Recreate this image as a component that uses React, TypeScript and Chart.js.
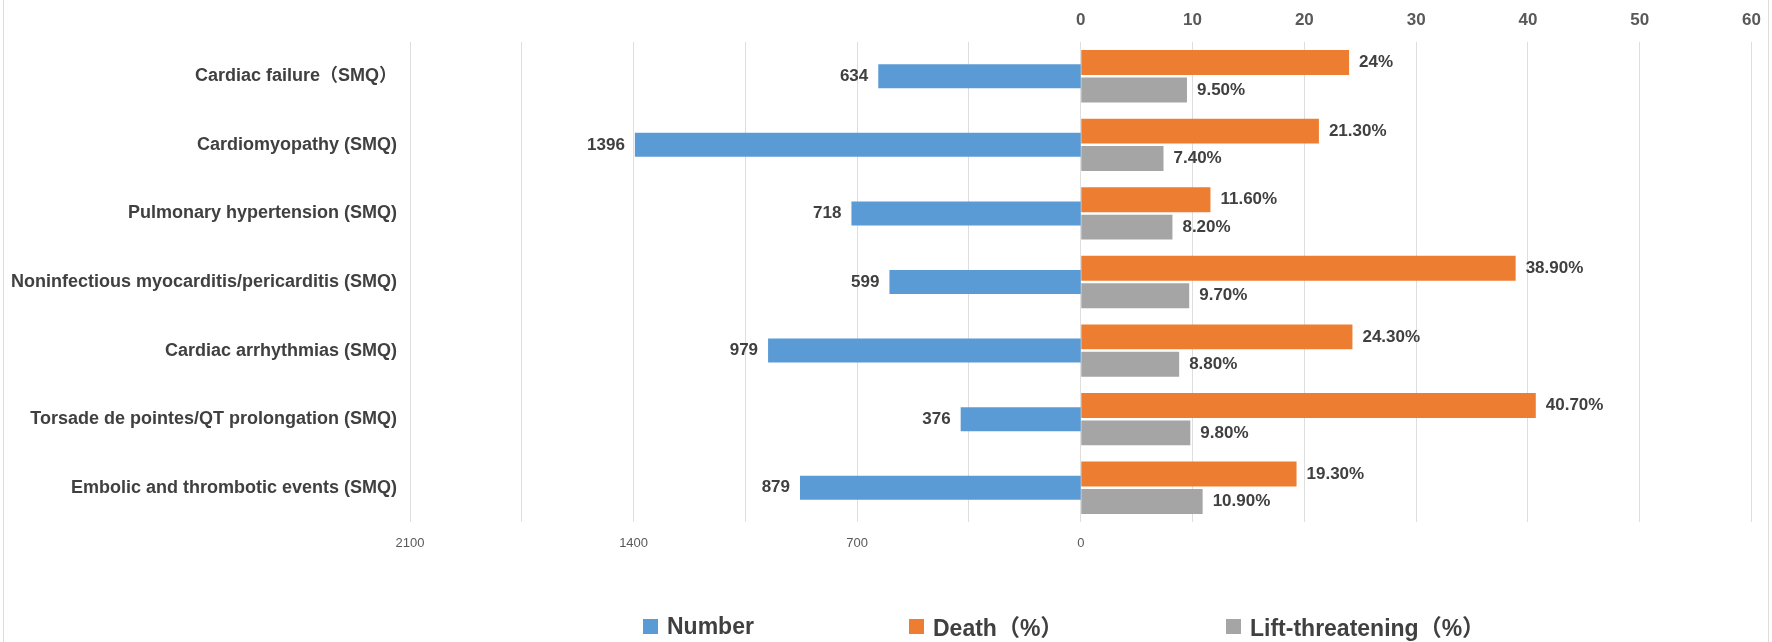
import React, { useEffect, useRef } from "react";
import { Chart, ChartConfiguration, Plugin, registerables } from "chart.js";

Chart.register(...registerables);

const FONT = "'Helvetica Neue', Helvetica, Arial, 'Liberation Sans', 'Noto Sans CJK SC', sans-serif";

const categories = [
    "Cardiac failure（SMQ）",
    "Cardiomyopathy (SMQ)",
    "Pulmonary hypertension (SMQ)",
    "Noninfectious myocarditis/pericarditis (SMQ)",
    "Cardiac arrhythmias (SMQ)",
    "Torsade de pointes/QT prolongation (SMQ)",
    "Embolic and thrombotic events (SMQ)",
];
const numberValues = [634, 1396, 718, 599, 979, 376, 879];
const deathValues = [24, 21.3, 11.6, 38.9, 24.3, 40.7, 19.3];
const lifeValues = [9.5, 7.4, 8.2, 9.7, 8.8, 9.8, 10.9];
const numberTickLabels = [2100, 1400, 700, 0];
const percentTickLabels = [0, 10, 20, 30, 40, 50, 60];
const seriesNames = ["Number", "Death（%）", "Lift-threatening（%）"];
const seriesColors = ["#5B9BD5", "#ED7D31", "#A5A5A5"];

const fmtPct = (v: number) => (Number.isInteger(v) ? `${v}%` : `${v.toFixed(2)}%`);

// value labels next to the end of each bar
const barLabels: Plugin<"bar"> = {
    id: "barLabels",
    afterDatasetsDraw(chart) {
        const ctx = chart.ctx;
        ctx.save();
        ctx.font = `bold 17px ${FONT}`;
        ctx.fillStyle = "#404040";
        ctx.textBaseline = "middle";
        chart.data.datasets.forEach((ds, i) => {
            const meta = chart.getDatasetMeta(i);
            meta.data.forEach((bar, j) => {
                const v = ds.data[j] as number;
                if (i === 0) {
                    ctx.textAlign = "right";
                    ctx.fillText(String(Math.abs(v)), bar.x - 10, bar.y);
                } else {
                    ctx.textAlign = "left";
                    ctx.fillText(fmtPct(v), bar.x + 10, bar.y);
                }
            });
        });
        ctx.restore();
    },
};

const App: React.FC = () => {
    const chartRef = useRef<HTMLCanvasElement>(null);
    const chartInstance = useRef<Chart | null>(null);

    useEffect(() => {
        document.body.style.margin = "0";
        if (!chartRef.current) return;
        const ctx = chartRef.current.getContext("2d");
        if (!ctx) return;
        if (chartInstance.current) chartInstance.current.destroy();

        const config: ChartConfiguration<"bar"> = {
            type: "bar",
            data: {
                labels: categories,
                datasets: [
                    {
                        label: seriesNames[0],
                        data: numberValues.map((v) => -v),
                        backgroundColor: seriesColors[0],
                        xAxisID: "xNum",
                        grouped: false,
                        categoryPercentage: 1,
                        barPercentage: 0.35,
                    },
                    {
                        label: seriesNames[1],
                        data: deathValues,
                        backgroundColor: seriesColors[1],
                        xAxisID: "xPct",
                        categoryPercentage: 0.8,
                        barPercentage: 0.91,
                    },
                    {
                        label: seriesNames[2],
                        data: lifeValues,
                        backgroundColor: seriesColors[2],
                        xAxisID: "xPct",
                        categoryPercentage: 0.8,
                        barPercentage: 0.91,
                    },
                ],
            },
            options: {
                indexAxis: "y",
                responsive: false,
                animation: false,
                layout: { padding: { left: 0, right: 20, top: 0, bottom: 80 } },
                scales: {
                    y: {
                        grid: { display: false },
                        border: { display: false },
                        ticks: {
                            autoSkip: false,
                            padding: 5,
                            color: "#404040",
                            font: { family: FONT, size: 18, weight: "bold" },
                        },
                        afterFit: (scale) => {
                            scale.width = 410;
                        },
                    },
                    xPct: {
                        type: "linear",
                        axis: "x",
                        position: "top",
                        min: -60,
                        max: 60,
                        grid: { color: "#dedede", drawTicks: false },
                        border: { display: false },
                        ticks: {
                            stepSize: 10,
                            autoSkip: false,
                            maxRotation: 0,
                            padding: 11,
                            color: "#595959",
                            font: { family: FONT, size: 17, weight: "bold" },
                            callback: (v) => (percentTickLabels.includes(Number(v)) ? String(v) : ""),
                        },
                        afterFit: (scale) => {
                            scale.height = 42;
                        },
                    },
                    xNum: {
                        type: "linear",
                        axis: "x",
                        position: "bottom",
                        min: -2100,
                        max: 2100,
                        grid: { display: false },
                        border: { display: false },
                        ticks: {
                            stepSize: 350,
                            autoSkip: false,
                            maxRotation: 0,
                            padding: 6,
                            color: "#595959",
                            font: { family: FONT, size: 13 },
                            callback: (v) => {
                                const n = -Number(v);
                                return numberTickLabels.includes(n) ? String(Math.abs(n)) : "";
                            },
                        },
                        afterFit: (scale) => {
                            scale.height = 40;
                        },
                    },
                },
                plugins: {
                    legend: { display: false },
                    tooltip: { enabled: false },
                },
            },
            plugins: [barLabels],
        };

        chartInstance.current = new Chart(ctx, config);

        return () => {
            if (chartInstance.current) {
                chartInstance.current.destroy();
                chartInstance.current = null;
            }
        };
    }, []);

    const legendWidths = [266, 317, undefined];

    return (
        <div style={{ position: "relative", width: 1772, height: 642, background: "#fff" }}>
            <canvas ref={chartRef} width={1772} height={642} style={{ display: "block" }} />
            <div
                style={{
                    position: "absolute",
                    left: 3,
                    right: 3,
                    top: 0,
                    bottom: 0,
                    borderLeft: "1px solid #dcdcdc",
                    borderRight: "1px solid #dcdcdc",
                    pointerEvents: "none",
                }}
            />
            <div
                style={{
                    position: "absolute",
                    left: 643,
                    top: 612,
                    display: "flex",
                    alignItems: "center",
                    height: 28,
                    fontFamily: FONT,
                    fontWeight: "bold",
                    fontSize: 23,
                    color: "#404040",
                    whiteSpace: "nowrap",
                }}
            >
                {seriesNames.map((name, i) => (
                    <div key={name} style={{ display: "flex", alignItems: "center", width: legendWidths[i] }}>
                        <span style={{ width: 15, height: 15, background: seriesColors[i], marginRight: 9 }} />
                        <span>{name}</span>
                    </div>
                ))}
            </div>
        </div>
    );
};

export default App;
